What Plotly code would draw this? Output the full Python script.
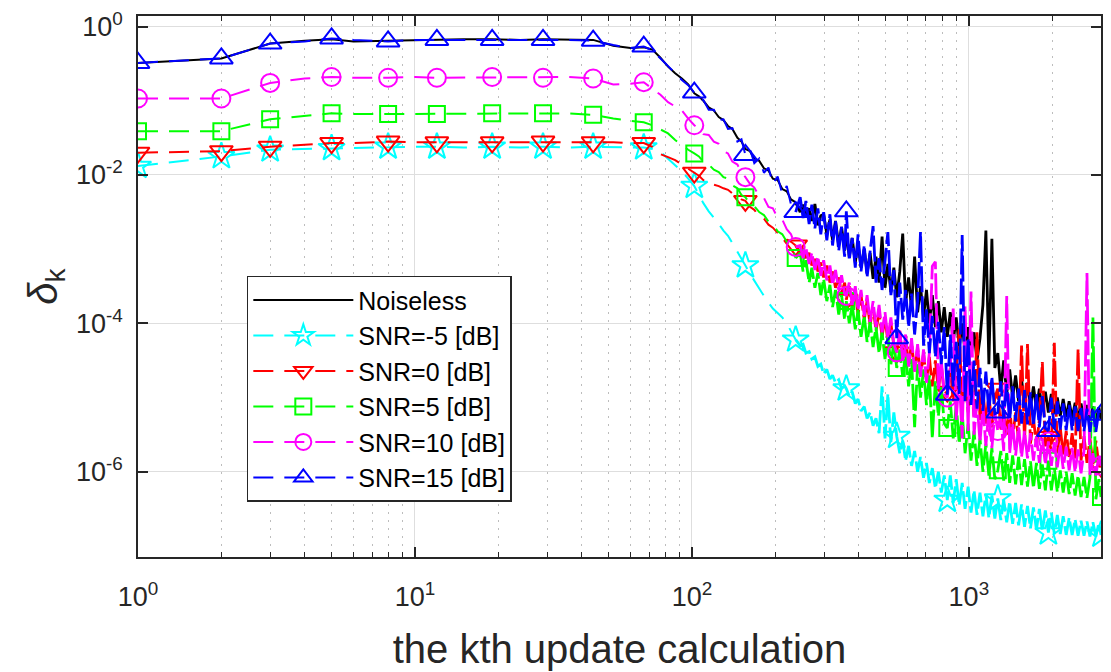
import math
import plotly.graph_objects as go

# Iteration index k at which each curve is sampled
x_steps = [
    1, 2, 3, 4, 5, 6, 8, 10, 12, 15, 19, 24, 29, 36, 44, 52, 60, 67, 72, 77, 82, 87, 92, 97,
    102, 106, 110, 115, 120, 125, 130, 135, 140, 146, 151, 156, 162, 168, 175, 182, 189, 196, 204, 212, 220, 228,
    237, 246, 252, 258, 265, 271, 278, 285, 292, 299, 307, 315, 322, 330, 339, 347, 356,
    361, 370, 379, 389, 398, 408, 419, 429, 440, 451, 462, 474, 486, 498, 510, 523, 536,
    549, 563, 577, 591, 606, 621, 637, 653, 669, 686, 703, 720, 738, 757, 776, 795, 815,
    836, 857, 878, 900, 923, 946, 969, 994, 1018, 1044, 1070, 1097, 1124, 1152, 1181, 1211, 1241,
    1272, 1304, 1336, 1370, 1404, 1439, 1475, 1512, 1550, 1589, 1628, 1669, 1711, 1754, 1797, 1842, 1889,
    1937, 1985, 2035, 2086, 2138, 2191, 2246, 2302, 2360, 2419, 2479, 2541, 2605, 2670, 2737, 2805, 2875, 2947, 3000,
]

# Steps that carry a marker symbol
marker_steps = [1, 2, 3, 5, 8, 12, 19, 29, 44, 67, 102, 156, 237, 361, 549, 836, 1272, 1937, 3000]

# First step of the noisy, dense part of every curve
noisy_from_step = 237

# delta_k for each run, stored as log10(delta_k)
noiseless_exp = [
    -0.49, -0.43, -0.23, -0.19, -0.17, -0.20, -0.19, -0.18, -0.18, -0.17, -0.17, -0.18, -0.17, -0.17, -0.18, -0.26, -0.29, -0.28, -0.31, -0.42, -0.54, -0.63, -0.70, -0.78,
    -0.90, -0.94, -1.00, -1.09, -1.13, -1.22, -1.26, -1.34, -1.38, -1.50, -1.55, -1.65, -1.68, -1.78, -1.81, -1.91, -1.94, -2.05, -2.07, -2.19, -2.22, -2.33,
    -2.37, -2.50, -2.40, -2.55, -2.45, -2.62, -2.39, -2.68, -2.55, -2.53, -2.80, -2.60, -2.88, -2.62, -2.95, -2.70, -3.02,
    -2.78, -3.10, -2.85, -3.18, -2.92, -3.25, -3.00, -3.32, -3.05, -3.40, -3.10, -3.45, -2.83, -3.52, -3.20, -3.58, -3.25,
    -3.65, -3.30, -2.79, -3.72, -3.38, -3.80, -3.10, -3.85, -3.50, -3.92, -3.55, -4.00, -3.62, -4.05, -3.70, -4.12, -3.78,
    -4.18, -3.85, -4.25, -3.92, -4.32, -4.00, -4.40, -4.05, -4.45, -4.12, -4.50, -4.20, -3.75, -2.75, -4.55, -2.86, -4.60,
    -4.40, -4.90, -4.50, -4.95, -4.62, -5.00, -4.70, -5.05, -4.75, -5.10, -4.80, -5.12, -4.85, -5.15, -4.88, -5.18, -4.92,
    -5.20, -4.95, -5.22, -5.00, -5.25, -5.02, -5.26, -5.05, -5.28, -5.07, -5.29, -5.08, -5.30, -5.10, -5.31, -5.12, -5.32, -5.13, -5.30,
]

snr_m5_exp = [
    -1.88, -1.75, -1.66, -1.65, -1.64, -1.63, -1.62, -1.62, -1.62, -1.63, -1.62, -1.63, -1.62, -1.63, -1.62, -1.63, -1.63, -1.63, -1.65, -1.69, -1.78, -1.86, -1.95, -2.05,
    -2.15, -2.27, -2.38, -2.49, -2.57, -2.66, -2.75, -2.82, -2.92, -3.03, -3.12, -3.22, -3.33, -3.43, -3.53, -3.63, -3.72, -3.80, -3.86, -3.92, -4.00, -4.10,
    -4.22, -4.30, -4.28, -4.40, -4.38, -4.48, -4.45, -4.58, -4.55, -4.68, -4.62, -4.75, -4.70, -4.80, -4.76, -4.88, -4.84,
    -4.88, -4.98, -4.92, -5.08, -5.02, -5.18, -5.12, -5.28, -5.20, -5.38, -5.28, -5.48, -4.85, -5.55, -4.95, -5.60, -5.20,
    -5.52, -5.75, -5.58, -5.85, -5.65, -5.92, -5.72, -6.00, -5.80, -6.08, -5.88, -6.15, -5.95, -6.22, -6.00, -6.28, -6.05,
    -6.38, -6.05, -6.42, -6.10, -6.45, -6.15, -6.50, -6.20, -6.55, -6.25, -6.58, -6.28, -6.60, -6.30, -6.62, -6.32, -6.63,
    -6.36, -6.65, -6.38, -6.68, -6.40, -6.70, -6.42, -6.72, -6.44, -6.74, -6.46, -6.76, -6.48, -6.78, -6.50, -6.80, -6.52,
    -6.82, -6.55, -6.84, -6.58, -6.84, -6.60, -6.85, -6.62, -6.85, -6.64, -6.86, -6.66, -6.86, -6.67, -6.87, -6.68, -6.87, -6.69, -6.85,
]

snr_0_exp = [
    -1.70, -1.68, -1.62, -1.59, -1.57, -1.57, -1.55, -1.56, -1.56, -1.56, -1.56, -1.56, -1.55, -1.55, -1.56, -1.56, -1.57, -1.57, -1.62, -1.72, -1.76, -1.80, -1.86, -1.92,
    -1.97, -2.01, -2.07, -2.08, -2.13, -2.15, -2.18, -2.20, -2.25, -2.28, -2.33, -2.35, -2.43, -2.47, -2.56, -2.59, -2.67, -2.71, -2.78, -2.80, -2.87, -2.90,
    -2.95, -3.05, -2.98, -3.15, -3.05, -3.22, -3.10, -3.30, -3.18, -3.38, -3.22, -3.45, -3.30, -3.52, -3.38, -3.60, -3.45,
    -3.68, -3.50, -3.80, -3.55, -3.88, -3.62, -3.95, -3.70, -4.02, -3.78, -4.10, -3.85, -4.18, -3.92, -4.25, -4.00, -4.30,
    -4.39, -4.10, -4.50, -4.18, -4.58, -4.25, -4.65, -4.32, -4.72, -4.40, -4.78, -4.45, -4.85, -4.50, -4.90, -4.55, -4.95,
    -4.92, -4.60, -5.05, -4.65, -4.08, -5.15, -4.75, -5.20, -4.80, -5.25, -4.12, -5.30, -4.90, -5.35, -4.95, -5.40, -5.00,
    -4.88, -5.45, -5.10, -5.50, -5.15, -5.55, -5.20, -5.58, -4.30, -5.60, -4.28, -5.62, -5.28, -5.65, -5.30, -4.52, -5.68,
    -5.53, -5.72, -4.26, -5.75, -5.40, -5.78, -5.45, -5.80, -5.48, -5.82, -4.35, -5.85, -5.52, -5.88, -5.55, -5.90, -5.58, -5.92, -5.93,
]

snr_5_exp = [
    -1.41, -1.41, -1.25, -1.20, -1.17, -1.18, -1.18, -1.18, -1.18, -1.17, -1.17, -1.18, -1.17, -1.17, -1.19, -1.24, -1.27, -1.29, -1.33, -1.39, -1.44, -1.53, -1.60, -1.66,
    -1.71, -1.75, -1.82, -1.86, -1.93, -1.96, -2.03, -2.05, -2.14, -2.18, -2.27, -2.30, -2.39, -2.42, -2.50, -2.54, -2.63, -2.66, -2.76, -2.80, -2.90, -2.96,
    -3.12, -3.05, -3.30, -3.15, -3.45, -3.25, -3.52, -3.32, -3.62, -3.40, -3.70, -3.48, -3.78, -3.55, -3.88, -3.62, -3.95,
    -3.70, -4.00, -3.75, -4.08, -3.82, -4.18, -3.90, -4.25, -3.98, -4.32, -4.05, -4.40, -4.12, -4.48, -4.18, -4.55, -4.25,
    -4.60, -4.35, -4.72, -4.40, -4.85, -4.48, -5.40, -4.55, -5.00, -4.62, -5.10, -4.70, -5.55, -4.78, -5.25, -4.85, -5.35,
    -5.41, -5.05, -5.55, -5.10, -5.62, -5.20, -5.75, -5.35, -5.85, -5.45, -5.92, -5.55, -6.00, -5.62, -6.05, -5.68, -6.10,
    -5.98, -5.72, -6.12, -5.75, -6.15, -5.78, -6.17, -5.80, -6.18, -5.83, -6.20, -5.86, -6.22, -5.88, -6.23, -5.90, -6.25,
    -5.85, -6.25, -5.95, -6.27, -5.98, -6.28, -6.00, -6.30, -6.02, -6.32, -6.05, -6.34, -6.07, -6.35, -6.08, -3.92, -6.37, -6.10, -6.34,
]

snr_10_exp = [
    -0.97, -0.97, -0.76, -0.70, -0.68, -0.69, -0.69, -0.68, -0.69, -0.69, -0.68, -0.69, -0.69, -0.68, -0.70, -0.78, -0.77, -0.75, -0.84, -0.92, -1.02, -1.08, -1.13, -1.24,
    -1.33, -1.37, -1.45, -1.46, -1.55, -1.58, -1.68, -1.71, -1.82, -1.86, -1.97, -2.03, -2.12, -2.17, -2.29, -2.31, -2.43, -2.45, -2.58, -2.60, -2.73, -2.80,
    -2.97, -2.95, -3.12, -2.98, -3.20, -3.05, -3.28, -3.10, -3.36, -3.15, -3.42, -3.22, -3.48, -3.28, -3.55, -3.35, -3.60,
    -3.63, -3.45, -3.75, -3.50, -3.82, -3.55, -3.90, -3.62, -3.98, -3.70, -4.05, -3.75, -4.12, -3.85, -4.20, -3.92, -4.28,
    -4.39, -4.10, -4.50, -4.15, -4.58, -4.20, -4.65, -4.28, -4.72, -4.35, -4.80, -4.40, -3.23, -3.17, -4.90, -4.50, -4.95,
    -5.00, -4.60, -3.80, -5.30, -4.70, -5.55, -3.77, -5.45, -3.57, -5.50, -5.05, -5.60, -5.10, -5.65, -5.15, -5.68, -5.20,
    -5.45, -5.25, -5.72, -3.63, -5.75, -5.35, -5.78, -5.40, -5.80, -5.45, -5.82, -5.48, -5.85, -5.52, -5.88, -5.55, -5.90,
    -5.59, -5.92, -5.60, -5.94, -5.63, -5.96, -5.66, -5.98, -5.68, -6.00, -5.70, -6.02, -5.72, -3.32, -6.04, -5.75, -6.05, -5.78, -5.92,
]

snr_15_exp = [
    -0.49, -0.43, -0.23, -0.20, -0.16, -0.18, -0.20, -0.18, -0.18, -0.18, -0.18, -0.17, -0.18, -0.18, -0.19, -0.25, -0.29, -0.27, -0.32, -0.43, -0.52, -0.62, -0.72, -0.79,
    -0.89, -0.97, -0.99, -1.12, -1.12, -1.26, -1.25, -1.38, -1.37, -1.55, -1.52, -1.73, -1.65, -1.84, -1.78, -1.97, -1.90, -2.12, -2.02, -2.26, -2.15, -2.40,
    -2.50, -2.30, -2.58, -2.35, -2.66, -2.40, -2.72, -2.45, -2.80, -2.50, -2.88, -2.53, -2.95, -2.62, -3.02, -2.70, -3.10,
    -2.49, -3.15, -2.85, -3.25, -2.80, -3.30, -2.95, -3.38, -3.05, -2.69, -3.45, -3.12, -3.55, -3.20, -2.77, -3.62, -3.28,
    -4.20, -3.45, -3.95, -3.55, -4.05, -3.60, -4.15, -3.70, -2.77, -4.30, -3.80, -4.40, -3.90, -4.45, -3.98, -4.55, -4.05,
    -4.96, -4.15, -4.85, -4.25, -4.95, -2.81, -5.05, -4.20, -5.10, -4.50, -5.15, -4.60, -5.18, -4.65, -5.20, -4.72, -5.22,
    -5.20, -4.78, -5.28, -4.82, -5.30, -4.85, -5.32, -4.88, -5.35, -4.90, -5.36, -4.93, -5.38, -4.95, -5.40, -4.98, -5.41,
    -5.45, -5.00, -5.42, -5.05, -5.43, -5.08, -5.44, -5.10, -5.44, -5.12, -5.45, -5.14, -5.45, -5.15, -5.46, -5.16, -5.46, -5.17, -5.23,
]

series_names = ["Noiseless", "SNR=-5 [dB]", "SNR=0 [dB]", "SNR=5 [dB]", "SNR=10 [dB]", "SNR=15 [dB]"]
series_exps = [noiseless_exp, snr_m5_exp, snr_0_exp, snr_5_exp, snr_10_exp, snr_15_exp]
series_colors = ["#000000", "#00FFFF", "#FF0000", "#00FF00", "#FF00FF", "#0000FF"]
series_symbols = [None, "star-open", "triangle-down-open", "square-open", "circle-open", "triangle-up-open"]
series_marker_sizes = [0, 20, 20, 16, 18, 20]

x_tick_vals = [1, 10, 100, 1000]
x_tick_text = ["10<sup>0</sup>", "10<sup>1</sup>", "10<sup>2</sup>", "10<sup>3</sup>"]
y_tick_vals = [1, 1e-2, 1e-4, 1e-6]
y_tick_text = ["10<sup>0</sup>", "10<sup>-2</sup>", "10<sup>-4</sup>", "10<sup>-6</sup>"]
x_minor_vals = [m * 10 ** d for d in range(4) for m in range(2, 10) if m * 10 ** d <= 3000]

FONT = "Liberation Sans, Arial, Helvetica, sans-serif"
AXIS_COLOR = "#262626"
DASH_SMOOTH = "20px,11px"   # dashed style on the smooth part of a curve
DASH_NOISY = "26px,4px"     # dense jitter: the dashes almost merge

for exps in series_exps:
    if len(exps) != len(x_steps):
        raise ValueError("series length mismatch")

marker_idx = [x_steps.index(v) for v in marker_steps]
split = x_steps.index(noisy_from_step)

fig = go.Figure()
for name, exps, color, symbol, msize in zip(series_names, series_exps, series_colors,
                                           series_symbols, series_marker_sizes):
    y = [10.0 ** e for e in exps]
    dashed = symbol is not None
    head_line = dict(color=color, width=2, dash=DASH_SMOOTH if dashed else "solid")
    tail_line = dict(color=color, width=2.8, dash=DASH_NOISY if dashed else "solid")
    # smooth start of the curve
    fig.add_trace(go.Scatter(x=x_steps[:split + 1], y=y[:split + 1], mode="lines",
                             line=head_line, showlegend=False, hoverinfo="skip"))
    # noisy convergence tail
    fig.add_trace(go.Scatter(x=x_steps[split:], y=y[split:], mode="lines",
                             line=tail_line, showlegend=False, hoverinfo="skip"))
    if dashed:
        mk = dict(symbol=symbol, size=msize, color=color, line=dict(color=color, width=2))
        fig.add_trace(go.Scatter(x=[x_steps[i] for i in marker_idx],
                                 y=[y[i] for i in marker_idx],
                                 mode="markers", marker=mk,
                                 showlegend=False, hoverinfo="skip"))
        fig.add_trace(go.Scatter(x=[None], y=[None], mode="lines+markers", name=name,
                                 line=head_line, marker=mk))
    else:
        fig.add_trace(go.Scatter(x=[None], y=[None], mode="lines", name=name, line=head_line))

fig.update_layout(
    width=1111, height=672,
    margin=dict(l=138, r=8, t=9, b=115),
    paper_bgcolor="white", plot_bgcolor="white",
    font=dict(family=FONT, color=AXIS_COLOR),
    legend=dict(
        x=0.113, y=0.52, xanchor="left", yanchor="top",
        bgcolor="white", bordercolor=AXIS_COLOR, borderwidth=1.5,
        font=dict(size=25, family=FONT, color="#000000"),
        itemwidth=100, tracegroupgap=0,
    ),
    xaxis=dict(
        type="log", range=[0, math.log10(3000)],
        tickvals=x_tick_vals, ticktext=x_tick_text,
        ticks="inside", ticklen=10, tickwidth=1.5, tickcolor=AXIS_COLOR,
        showline=True, linecolor=AXIS_COLOR, linewidth=1.5, mirror="allticks",
        showgrid=True, gridcolor="#dedede", gridwidth=1.2, zeroline=False,
        tickfont=dict(size=27, family=FONT, color=AXIS_COLOR),
        ticklabelstandoff=15,
        minor=dict(tickvals=x_minor_vals, ticks="inside", ticklen=5, tickwidth=1.2,
                   tickcolor=AXIS_COLOR, showgrid=True, gridcolor="#bdbdbd",
                   griddash="2px,6px", gridwidth=1.2),
        title=dict(text="the kth update calculation",
                   font=dict(size=40, family=FONT, color=AXIS_COLOR), standoff=24),
    ),
    yaxis=dict(
        type="log", range=[-7.148, 0.142],
        tickvals=y_tick_vals, ticktext=y_tick_text,
        ticks="inside", ticklen=10, tickwidth=1.5, tickcolor=AXIS_COLOR,
        showline=True, linecolor=AXIS_COLOR, linewidth=1.5, mirror="allticks",
        showgrid=True, gridcolor="#dedede", gridwidth=1.2, zeroline=False,
        tickfont=dict(size=27, family=FONT, color=AXIS_COLOR),
        ticklabelstandoff=8,
        title=dict(text="<i>δ</i><sub>k</sub>",
                   font=dict(size=40, family=FONT, color=AXIS_COLOR), standoff=6),
    ),
)

fig.write_html("out.html")
